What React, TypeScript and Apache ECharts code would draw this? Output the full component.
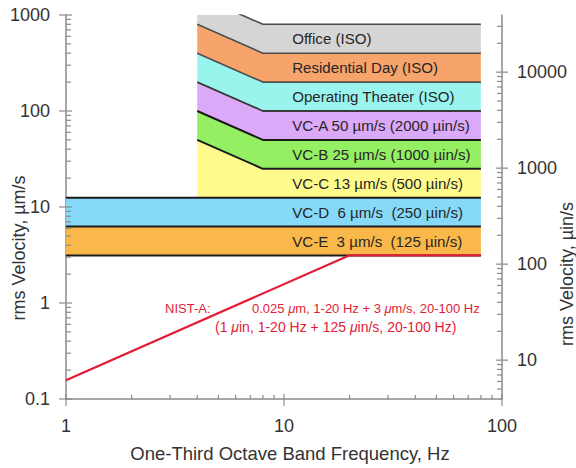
import React, { useEffect, useRef } from 'react';
import * as echarts from 'echarts';

const FONT = 'Liberation Sans, Arial, sans-serif';
const UIN_PER_UM = 39.37;

// Corner frequencies (Hz)
const slopedFreq = [4, 8, 80];
const flatFreq = [1, 80];
const vcCBandFreq = [4, 80];

// Criterion curves, rms velocity (µm/s) at slopedFreq
const workshopCurve = [1600, 800, 800];
const officeCurve = [800, 400, 400];
const residentialCurve = [400, 200, 200];
const theaterCurve = [200, 100, 100];
const vcACurve = [100, 50, 50];
const vcBCurve = [50, 25, 25];
// Flat criterion curves (µm/s) at flatFreq
const vcCCurve = [12.5, 12.5];
const vcDCurve = [6.25, 6.25];
const vcECurve = [3.125, 3.125];

// NIST-A curve
const nistFreq = [1, 20, 80];
const nistVel = [0.157, 3.14, 3.14];

const bandNames = [
  'Office (ISO)',
  'Residential Day (ISO)',
  'Operating Theater (ISO)',
  'VC-A 50 µm/s (2000 µin/s)',
  'VC-B 25 µm/s (1000 µin/s)',
  'VC-C 13 µm/s (500 µin/s)',
  'VC-D  6 µm/s  (250 µin/s)',
  'VC-E  3 µm/s  (125 µin/s)',
];
const bandColors = ['#d5d5d5', '#f6a46c', '#9af4ee', '#dca8f8', '#95ef63', '#fefb8c', '#86d9f8', '#fbb84a'];
const labelFreq = 10.9;

// Axis ticks
const xMajorTicks = [1, 10, 100];
const xMinorTicks = [2, 3, 4, 5, 6, 7, 8, 9, 20, 30, 40, 50, 60, 70, 80, 90];
const yMajorTicks = [0.1, 1, 10, 100, 1000];
const yMinorTicks = [
  0.2, 0.3, 0.4, 0.5, 0.6, 0.7, 0.8, 0.9,
  2, 3, 4, 5, 6, 7, 8, 9,
  20, 30, 40, 50, 60, 70, 80, 90,
  200, 300, 400, 500, 600, 700, 800, 900,
];
const rightMajorTicks = [10, 100, 1000, 10000];
const rightMinorTicks = [
  5, 6, 7, 8, 9,
  20, 30, 40, 50, 60, 70, 80, 90,
  200, 300, 400, 500, 600, 700, 800, 900,
  2000, 3000, 4000, 5000, 6000, 7000, 8000, 9000,
  20000, 30000,
];

const bands = [
  { uf: slopedFreq, u: workshopCurve, lf: slopedFreq, l: officeCurve },
  { uf: slopedFreq, u: officeCurve, lf: slopedFreq, l: residentialCurve },
  { uf: slopedFreq, u: residentialCurve, lf: slopedFreq, l: theaterCurve },
  { uf: slopedFreq, u: theaterCurve, lf: slopedFreq, l: vcACurve },
  { uf: slopedFreq, u: vcACurve, lf: slopedFreq, l: vcBCurve },
  { uf: slopedFreq, u: vcBCurve, lf: vcCBandFreq, l: vcCCurve },
  { uf: flatFreq, u: vcCCurve, lf: flatFreq, l: vcDCurve },
  { uf: flatFreq, u: vcDCurve, lf: flatFreq, l: vcECurve },
];

const AXIS_COLOR = '#8a8a8a';
const TEXT_COLOR = '#333';
const RED = '#e21c36';

function pairs(f: number[], v: number[]) {
  return f.map((x, i) => [x, v[i]]);
}

function tickSeries(data: number[][], dir: 'x' | 'yl' | 'yr', inner: number, outer: number, yAxisIndex = 0) {
  return {
    type: 'custom',
    yAxisIndex,
    clip: false,
    silent: true,
    z: 10,
    data,
    renderItem: (params: any, api: any) => {
      const p = api.coord([api.value(0), api.value(1)]);
      let shape;
      if (dir === 'x') shape = { x1: p[0], y1: p[1] - inner, x2: p[0], y2: p[1] + outer };
      else if (dir === 'yl') shape = { x1: p[0] - outer, y1: p[1], x2: p[0] + inner, y2: p[1] };
      else shape = { x1: p[0] - inner, y1: p[1], x2: p[0] + outer, y2: p[1] };
      return { type: 'line', shape, style: { stroke: AXIS_COLOR, lineWidth: 1.2 } };
    },
  };
}

function lineSeries(f: number[], v: number[], color: string, width: number, z = 5) {
  return {
    type: 'line',
    data: pairs(f, v),
    symbol: 'none',
    silent: true,
    z,
    lineStyle: { color, width },
  };
}

export default function App() {
  const ref = useRef<HTMLDivElement>(null);
  useEffect(() => {
    document.body.style.margin = '0';
    const chart = echarts.init(ref.current!, undefined, { renderer: 'svg' });
    const fmt = (v: number) => String(+v.toPrecision(6));
    const rightFmt = (v: number) => {
      const l = Math.log10(v);
      return Math.abs(l - Math.round(l)) < 1e-6 ? String(Math.round(v)) : '';
    };
    const bandData = bands.map((b, i) => [labelFreq, Math.sqrt(b.u[b.u.length - 1] * b.l[b.l.length - 1]), i]);
    const option: any = {
      animation: false,
      backgroundColor: '#fff',
      textStyle: { fontFamily: FONT },
      grid: { left: 66, right: 74, top: 15, bottom: 69 },
      xAxis: {
        type: 'log',
        logBase: 10,
        min: 1,
        max: 100,
        name: 'One-Third Octave Band Frequency, Hz',
        nameLocation: 'middle',
        nameGap: 45,
        nameTextStyle: { fontSize: 18.5, color: TEXT_COLOR, fontFamily: FONT, padding: [0, 0, 0, 12] },
        axisLine: { show: true, lineStyle: { color: AXIS_COLOR, width: 1.5 } },
        axisTick: { show: false },
        splitLine: { show: false },
        axisLabel: { fontSize: 18, color: TEXT_COLOR, margin: 18, fontFamily: FONT, formatter: fmt },
      },
      yAxis: [
        {
          type: 'log',
          logBase: 10,
          min: 0.1,
          max: 1000,
          position: 'left',
          axisLine: { show: true, lineStyle: { color: AXIS_COLOR, width: 1.5 } },
          axisTick: { show: false },
          splitLine: { show: false },
          axisLabel: { fontSize: 18, color: TEXT_COLOR, margin: 16, fontFamily: FONT, formatter: fmt },
        },
        {
          type: 'log',
          logBase: 10,
          min: 0.1 * UIN_PER_UM,
          max: 1000 * UIN_PER_UM,
          position: 'right',
          axisLine: { show: true, lineStyle: { color: AXIS_COLOR, width: 1.5 } },
          axisTick: { show: false },
          splitLine: { show: false },
          axisLabel: { fontSize: 18, color: TEXT_COLOR, margin: 15, fontFamily: FONT, formatter: rightFmt },
        },
      ],
      graphic: [
        {
          type: 'text',
          x: 19,
          y: 248,
          rotation: Math.PI / 2,
          style: { text: 'rms Velocity, µm/s', fontSize: 18, fill: TEXT_COLOR, fontFamily: FONT, align: 'center', verticalAlign: 'middle' },
        },
        {
          type: 'text',
          x: 567,
          y: 274,
          rotation: Math.PI / 2,
          style: { text: 'rms Velocity, µin/s', fontSize: 18, fill: TEXT_COLOR, fontFamily: FONT, align: 'center', verticalAlign: 'middle' },
        },
        {
          type: 'text',
          x: 165,
          y: 308,
          z: 20,
          style: { text: 'NIST-A:', fontSize: 13, fill: RED, fontFamily: FONT, align: 'left', verticalAlign: 'middle' },
        },
        {
          type: 'text',
          x: 252,
          y: 308,
          z: 20,
          style: {
            text: '0.025 {i|μ}m, 1-20 Hz + 3 {i|μ}m/s, 20-100 Hz',
            fontSize: 13,
            fill: RED,
            fontFamily: FONT,
            align: 'left',
            verticalAlign: 'middle',
            rich: { i: { fontStyle: 'italic', fontSize: 13, fill: RED, fontFamily: FONT } },
          },
        },
        {
          type: 'text',
          x: 215,
          y: 327,
          z: 20,
          style: {
            text: '(1 {i|μ}in, 1-20 Hz + 125 {i|μ}in/s, 20-100 Hz)',
            fontSize: 14,
            fill: RED,
            fontFamily: FONT,
            align: 'left',
            verticalAlign: 'middle',
            rich: { i: { fontStyle: 'italic', fontSize: 14, fill: RED, fontFamily: FONT } },
          },
        },
      ],
      series: [
        {
          type: 'custom',
          clip: true,
          silent: true,
          z: 1,
          data: bandData,
          renderItem: (params: any, api: any) => {
            const i = api.value(2);
            const b = bands[i];
            const pts: number[][] = [];
            b.uf.forEach((f, k) => pts.push(api.coord([f, b.u[k]])));
            for (let k = b.lf.length - 1; k >= 0; k--) pts.push(api.coord([b.lf[k], b.l[k]]));
            return { type: 'polygon', shape: { points: pts }, style: { fill: bandColors[i] } };
          },
        },
        {
          type: 'custom',
          clip: false,
          silent: true,
          z: 4,
          data: bandData,
          renderItem: (params: any, api: any) => {
            const i = api.value(2);
            const lp = api.coord([api.value(0), api.value(1)]);
            return {
              type: 'text',
              x: lp[0],
              y: lp[1],
              style: { text: bandNames[i], fontSize: 15.1, fontFamily: FONT, fill: '#262626', align: 'left', verticalAlign: 'middle' },
            };
          },
        },
        lineSeries(slopedFreq, workshopCurve, '#4d4d4d', 1.6),
        lineSeries(slopedFreq, officeCurve, '#4d4d4d', 1.6),
        lineSeries(slopedFreq, residentialCurve, '#4d4d4d', 1.6),
        lineSeries(slopedFreq, theaterCurve, '#3a3a3a', 1.8),
        lineSeries(slopedFreq, vcACurve, '#1a1a1a', 2),
        lineSeries(slopedFreq, vcBCurve, '#1a1a1a', 2),
        lineSeries(flatFreq, vcCCurve, '#1a1a1a', 2),
        lineSeries(flatFreq, vcDCurve, '#1a1a1a', 2),
        lineSeries(flatFreq, vcECurve, '#1a1a1a', 2),
        lineSeries(nistFreq, nistVel, RED, 2.2, 6),
        tickSeries(xMajorTicks.map((v) => [v, 0.1]), 'x', 5, 7),
        tickSeries(xMinorTicks.map((v) => [v, 0.1]), 'x', 4, 0),
        tickSeries(yMajorTicks.map((v) => [1, v]), 'yl', 6, 7),
        tickSeries(yMinorTicks.map((v) => [1, v]), 'yl', 5, 0),
        tickSeries(rightMajorTicks.map((v) => [100, v]), 'yr', 6, 6, 1),
        tickSeries(rightMinorTicks.map((v) => [100, v]), 'yr', 5, 0, 1),
      ],
    };
    chart.setOption(option);
    return () => chart.dispose();
  }, []);
  return <div ref={ref} style={{ width: 576, height: 468 }} />;
}
